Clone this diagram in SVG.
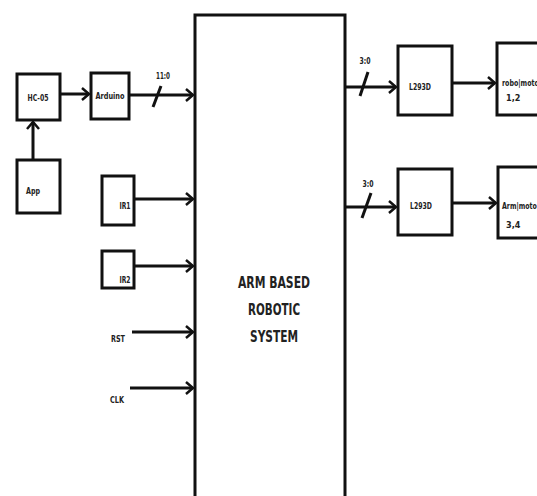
<svg xmlns="http://www.w3.org/2000/svg" width="537" height="496" viewBox="0 0 537 496">
<style>
.box{fill:#fff;stroke:#111;stroke-width:3}
.ln{fill:none;stroke:#111;stroke-width:3}
.t{font-family:"Liberation Sans Narrow","DejaVu Sans Condensed","Liberation Sans",sans-serif;font-weight:bold;fill:#222}
.s{font-size:9px}
.m{font-size:16px}
</style>
<defs>
<marker id="ah" markerUnits="userSpaceOnUse" markerWidth="12" markerHeight="14" refX="8" refY="7" orient="auto">
<path d="M1,1 L8,7 L1,13" fill="none" stroke="#111" stroke-width="2.5"/>
</marker>
</defs>
<rect width="537" height="496" fill="#fff"/>
<g id="main">
<rect class="box" x="195" y="15" width="150" height="490"/>
<text class="t m" x="274" y="288" text-anchor="middle" textLength="72" lengthAdjust="spacingAndGlyphs">ARM BASED</text>
<text class="t m" x="274" y="315" text-anchor="middle" textLength="52" lengthAdjust="spacingAndGlyphs">ROBOTIC</text>
<text class="t m" x="274" y="342" text-anchor="middle" textLength="48" lengthAdjust="spacingAndGlyphs">SYSTEM</text>
</g>
<g id="hc05">
<rect class="box" x="17" y="74" width="43" height="46"/>
<text class="t s" x="38" y="101" text-anchor="middle" textLength="21" lengthAdjust="spacingAndGlyphs">HC-05</text>
</g>
<g id="arduino">
<rect class="box" x="91" y="73" width="38" height="46"/>
<text class="t s" x="110" y="99" text-anchor="middle" textLength="29" lengthAdjust="spacingAndGlyphs">Arduino</text>
</g>
<g id="app">
<rect class="box" x="17" y="160" width="43" height="53"/>
<text class="t s" x="33" y="194" text-anchor="middle" textLength="14" lengthAdjust="spacingAndGlyphs">App</text>
</g>
<g id="ir1">
<rect class="box" x="102" y="176" width="32" height="49"/>
<text class="t s" x="125" y="209" text-anchor="middle" textLength="11" lengthAdjust="spacingAndGlyphs">IR1</text>
</g>
<g id="ir2">
<rect class="box" x="102" y="251" width="32" height="37"/>
<text class="t s" x="125" y="283" text-anchor="middle" textLength="11" lengthAdjust="spacingAndGlyphs">IR2</text>
</g>
<g id="rst"><text class="t s" x="118" y="342" text-anchor="middle" textLength="14" lengthAdjust="spacingAndGlyphs">RST</text></g>
<g id="clk"><text class="t s" x="117" y="403" text-anchor="middle" textLength="14" lengthAdjust="spacingAndGlyphs">CLK</text></g>
<g id="l293d1">
<rect class="box" x="398" y="46" width="54" height="69"/>
<text class="t s" x="420" y="90" text-anchor="middle" textLength="22" lengthAdjust="spacingAndGlyphs">L293D</text>
</g>
<g id="l293d2">
<rect class="box" x="398" y="169" width="54" height="66"/>
<text class="t s" x="421" y="209" text-anchor="middle" textLength="22" lengthAdjust="spacingAndGlyphs">L293D</text>
</g>
<g id="robo">
<rect class="box" x="497" y="43" width="60" height="72"/>
<text class="t s" x="502" y="86" textLength="40" lengthAdjust="spacingAndGlyphs">robo|motor</text>
<text class="t s" x="506" y="101">1,2</text>
</g>
<g id="arm">
<rect class="box" x="498" y="167" width="60" height="71"/>
<text class="t s" x="502" y="209" textLength="38" lengthAdjust="spacingAndGlyphs">Arm|motor</text>
<text class="t s" x="506" y="228">3,4</text>
</g>
<g id="connectors">
<line class="ln" x1="33" y1="160" x2="33" y2="122" marker-end="url(#ah)"/>
<line class="ln" x1="60" y1="94" x2="89" y2="94" marker-end="url(#ah)"/>
<line class="ln" x1="129" y1="95" x2="193" y2="95" marker-end="url(#ah)"/>
<line class="ln" x1="153" y1="107" x2="161" y2="86" stroke-width="2"/>
<text class="t s" x="163" y="79" text-anchor="middle" textLength="14" lengthAdjust="spacingAndGlyphs">11:0</text>
<line class="ln" x1="134" y1="199" x2="193" y2="199" marker-end="url(#ah)"/>
<line class="ln" x1="134" y1="266" x2="193" y2="266" marker-end="url(#ah)"/>
<line class="ln" x1="132" y1="332" x2="193" y2="332" marker-end="url(#ah)"/>
<line class="ln" x1="130" y1="388" x2="193" y2="388" marker-end="url(#ah)"/>
<line class="ln" x1="345" y1="87" x2="396" y2="87" marker-end="url(#ah)"/>
<line class="ln" x1="360" y1="96" x2="368" y2="72" stroke-width="2"/>
<text class="t s" x="365" y="64" text-anchor="middle" textLength="11" lengthAdjust="spacingAndGlyphs">3:0</text>
<line class="ln" x1="345" y1="207" x2="396" y2="207" marker-end="url(#ah)"/>
<line class="ln" x1="362" y1="218" x2="371" y2="193" stroke-width="2"/>
<text class="t s" x="368" y="187" text-anchor="middle" textLength="11" lengthAdjust="spacingAndGlyphs">3:0</text>
<line class="ln" x1="452" y1="83" x2="495" y2="83" marker-end="url(#ah)"/>
<line class="ln" x1="452" y1="203" x2="496" y2="203" marker-end="url(#ah)"/>
</g>
</svg>
